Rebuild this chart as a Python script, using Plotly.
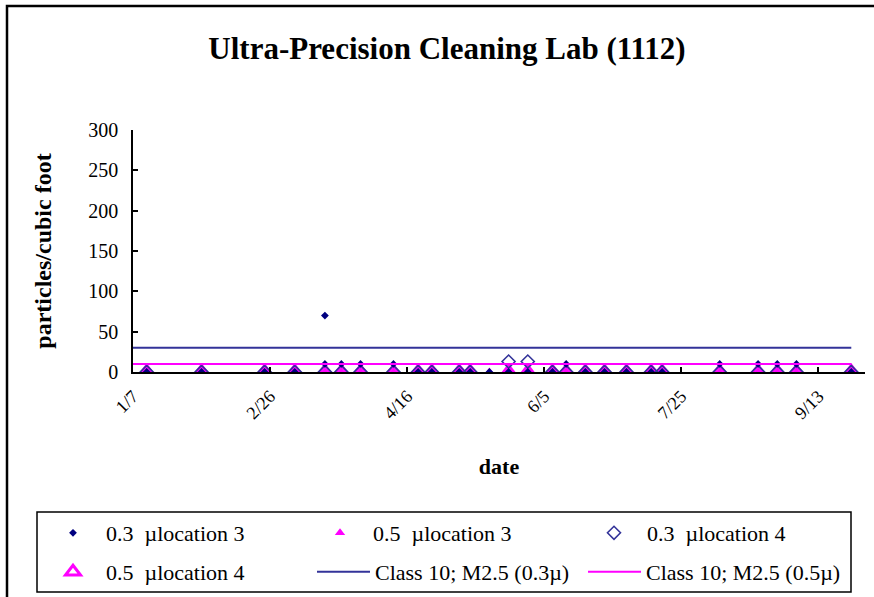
import plotly.graph_objects as go

# ---------------- data ----------------
dates = ["2004-01-12", "2004-02-01", "2004-02-24", "2004-03-06", "2004-03-17", "2004-03-17",
         "2004-03-23", "2004-03-30", "2004-04-11", "2004-04-20", "2004-04-25", "2004-05-05",
         "2004-05-09", "2004-05-16", "2004-05-23", "2004-05-30", "2004-06-08", "2004-06-13",
         "2004-06-20", "2004-06-27", "2004-07-05", "2004-07-14", "2004-07-18", "2004-08-08",
         "2004-08-22", "2004-08-29", "2004-09-05", "2004-09-25"]
loc3_03 = [0, 0, 0, 0, 70, 10, 10, 10, 10, 0, 0, 0, 0, 0, 0, 0, 0, 10, 0, 0, 0, 0, 0, 10, 10, 10, 10, 0]
loc3_05 = [0, 0, 0, 0, 0, None, 0, 0, 0, 0, 0, 0, 0, 0, 0, 0, 0, 0, 0, 0, 0, 0, 0, 0, 0, 0, 0, 0]
loc4_03 = [0, 0, 0, 0, 0, None, 0, 0, 0, 0, 0, 0, 0, None, 13, 13, 0, 0, 0, 0, 0, 0, 0, 0, 0, 0, 0, 0]
loc4_05 = [0, 0, 0, 0, 0, None, 0, 0, 0, 0, 0, 0, 0, None, 0, 0, 0, 0, 0, 0, 0, 0, 0, 0, 0, 0, 0, 0]
class_dates = ["2004-01-07"] + dates
class10_03 = 30
class10_05 = 10
x_range = ["2004-01-07", "2004-09-30"]
tick_dates = ["2004-01-07", "2004-02-26", "2004-04-16", "2004-06-05", "2004-07-25", "2004-09-13"]
tick_text = ["1/7", "2/26", "4/16", "6/5", "7/25", "9/13"]
y_ticks = [0, 50, 100, 150, 200, 250, 300]

names = ["0.3\u00a0\u00a0µlocation 3", "0.5\u00a0\u00a0µlocation 3",
         "0.3\u00a0\u00a0µlocation 4", "0.5\u00a0\u00a0µlocation 4",
         "Class 10; M2.5 (0.3µ)", "Class 10; M2.5 (0.5µ)"]

FONT = "Liberation Serif"
W, H = 874, 597
L, R, T, B = 133, 9, 130, 225
PW, PH = W - L - R, H - T - B


def px(x):
    return (x - L) / PW


def py(y):
    return (H - B - y) / PH


NAVY = "#000080"
BLUE = "#333399"
MAG = "#FF00FF"

fig = go.Figure()
fig.add_trace(go.Scatter(x=dates, y=loc4_05, mode="markers", name=names[3], legend="legend4",
                         marker=dict(symbol="triangle-up-open", size=13, color=MAG, line=dict(width=3, color=MAG))))
fig.add_trace(go.Scatter(x=dates, y=loc3_05, mode="markers", name=names[1], legend="legend2",
                         marker=dict(symbol="triangle-up", size=9, color=MAG, line=dict(width=0))))
fig.add_trace(go.Scatter(x=dates, y=loc4_03, mode="markers", name=names[2], legend="legend3",
                         marker=dict(symbol="diamond-open", size=10, color=BLUE, line=dict(width=1.6, color=BLUE))))
fig.add_trace(go.Scatter(x=dates, y=loc3_03, mode="markers", name=names[0], legend="legend",
                         marker=dict(symbol="diamond", size=6, color=NAVY, line=dict(width=0))))
fig.add_trace(go.Scatter(x=class_dates, y=[class10_03] * len(class_dates), mode="lines", name=names[4],
                         legend="legend5", line=dict(color=BLUE, width=2)))
fig.add_trace(go.Scatter(x=class_dates, y=[class10_05] * len(class_dates), mode="lines", name=names[5],
                         legend="legend6", line=dict(color=MAG, width=2)))

legfont = dict(family=FONT, size=22, color="black")


def leg(x0, yc, w):
    return dict(x=px(x0), y=py(yc), xanchor="left", yanchor="middle", orientation="v",
                bgcolor="rgba(0,0,0,0)", borderwidth=0, font=legfont, itemwidth=w,
                itemclick=False, itemdoubleclick=False)


fig.update_layout(
    width=W, height=H, showlegend=True,
    margin=dict(l=L, r=R, t=T, b=B, autoexpand=False),
    paper_bgcolor="white", plot_bgcolor="white",
    font=dict(family=FONT, color="black"),
    title=dict(text="<b>Ultra-Precision Cleaning Lab (1112)</b>", xref="container", x=447 / W, xanchor="center",
               yref="container", y=1 - 48 / H, yanchor="middle", font=dict(family=FONT, size=31, color="black")),
    xaxis=dict(type="date", range=x_range, tickmode="array", tickvals=tick_dates, ticktext=tick_text,
               tickangle=-45, ticks="inside", ticklen=5, tickcolor="black", tickwidth=1.5,
               showline=True, linecolor="black", linewidth=1.5, showgrid=False, zeroline=False,
               ticklabelstandoff=5,
               tickfont=dict(family=FONT, size=18, color="black"),
               title=dict(text="<b>date</b>", font=dict(family=FONT, size=22, color="black"), standoff=36)),
    yaxis=dict(range=[0, 300], tickmode="array", tickvals=y_ticks, ticks="inside", ticklen=5,
               tickcolor="black", tickwidth=1.5, showline=True, linecolor="black", linewidth=1.5,
               ticklabelstandoff=9,
               showgrid=False, zeroline=False, tickfont=dict(family=FONT, size=20, color="black"),
               title=dict(text="<b>particles/cubic foot</b>", font=dict(family=FONT, size=24, color="black"),
                          standoff=30)),
    legend=leg(40, 533, 56),
    legend2=leg(307, 533, 56),
    legend3=leg(581, 533, 56),
    legend4=leg(40, 572, 56),
    legend5=leg(312, 572, 53),
    legend6=leg(583, 572, 53),
    shapes=[
        dict(type="rect", xref="paper", yref="paper", x0=px(7), x1=px(890), y0=py(6), y1=py(620),
             line=dict(color="black", width=2.5), fillcolor="rgba(0,0,0,0)", layer="below"),
        dict(type="rect", xref="paper", yref="paper", x0=px(37), x1=px(851), y0=py(512), y1=py(592),
             line=dict(color="black", width=1.5), fillcolor="rgba(0,0,0,0)", layer="below"),
    ],
)

fig.write_html("out.html", config={"displayModeBar": False},
               post_script="document.body.style.margin='0';")
